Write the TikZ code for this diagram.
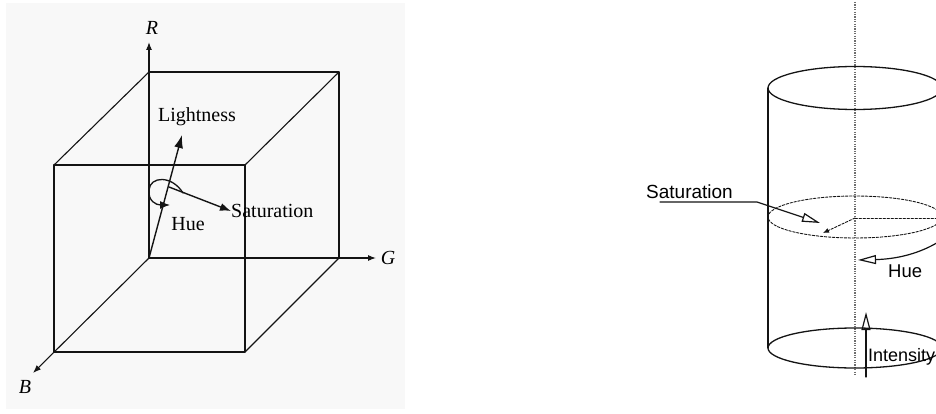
\documentclass[tikz,border=0pt]{standalone}
\usepackage{fontspec}
\setmainfont{Liberation Serif}
\setsansfont{Liberation Sans}
\usetikzlibrary{arrows.meta}

\begin{document}
\begin{tikzpicture}[x=1pt, y=-1pt, line cap=round, line join=round]

% Colors
\definecolor{panel}{RGB}{248,248,248}
\definecolor{ink}{RGB}{20,20,20}
\definecolor{axisgray}{RGB}{110,110,110}

\tikzset{
  cubeline/.style={ink, line width=1.1pt},
  axisarrow/.style={ink, line width=1.1pt, -{Latex[length=8pt,width=6pt]}},
  bigarrow/.style={ink, line width=1.4pt, -{Latex[length=13pt,width=9pt]}},
  serlabel/.style={inner sep=0pt, font=\fontsize{20}{22}\selectfont},
  axlabel/.style={inner sep=0pt, font=\fontsize{20}{22}\selectfont\itshape},
  sanslabel/.style={inner sep=0pt, anchor=west, font=\sffamily\fontsize{19}{21}\selectfont},
  rim/.style={ink, line width=1.3pt},
  dashrim/.style={ink, line width=0.9pt, dash pattern=on 2.5pt off 1.5pt},
  openarrow/.style={ink, line width=1.2pt, -{Triangle[open, length=18pt, width=9pt]}}
}

\useasboundingbox (0,0) rectangle (936,414);
\clip (0,0) rectangle (936,414);

% Left panel background
\fill[panel] (6,3) rectangle (405,409);

% RGB cube
\coordinate (O) at (149,258);
\draw[cubeline] (54,165) rectangle (245,352);
\draw[cubeline] (149,72) -- (339,72) -- (339,258);
\draw[cubeline] (54,165) -- (149,72) (245,165) -- (339,72) (245,352) -- (339,258);

% Axes
\node[axlabel] (rlbl) at (152,28) {R};
\node[axlabel] (glbl) at (388,258) {G};
\node[axlabel] (blbl) at (25,387) {B};
\coordinate (rtip) at (149,42);
\coordinate (gtip) at (376,258);
\coordinate (btip) at (33,373);
\draw[axisarrow] (O) -- (rtip);
\draw[axisarrow] (O) -- (gtip);
\draw[axisarrow] (O) -- (btip);

% Lightness, saturation, hue
\node[serlabel] (light) at (197,117) {Lightness};
\node[serlabel, anchor=west] (satl) at (231,211) {Saturation};
\node[serlabel] (huel) at (188,224) {Hue};
\coordinate (ltip) at (182,135);
\coordinate (sbase) at (169,187);
\draw[bigarrow] (O) -- (ltip);
\draw[ink, line width=1.4pt, -{Latex[length=11pt,width=8pt]}] (sbase) -- (satl.west);
\draw[ink, line width=1.3pt, -{Latex[length=10pt,width=8pt]}]
  (183,193) .. controls (172,175) and (150,176) .. (149,190)
  .. controls (148,201) and (156,205) .. (170,205);

% HSI cylinder
\draw[axisgray, line cap=butt, line width=1.4pt, dash pattern=on 1.2pt off 1.2pt] (855,2) -- (855,375);
\draw[rim] (855,88) ellipse [x radius=87pt, y radius=21.5pt];
\draw[rim] (855,348) ellipse [x radius=87pt, y radius=20pt];
\draw[rim] (768,88) -- (768,348) (942,88) -- (942,348);
\draw[dashrim] (855,217) ellipse [x radius=87pt, y radius=21pt];
\coordinate (c) at (855,218);
\draw[dashrim] (c) -- (942,218);
\draw[dashrim, -{Latex[length=6pt,width=5pt]}] (c) -- (823,233);

% Labels on the cylinder
\node[sanslabel] (satr) at (646,192) {Saturation};
\node[sanslabel, font=\sffamily\fontsize{18.5}{20}\selectfont] (huer) at (888,271) {Hue};
\node[sanslabel, font=\sffamily\fontsize{18}{20}\selectfont] (intr) at (868,357) {Intensity};
\draw[openarrow] (660,202) -- (757,202) -- (820,223);
\draw[openarrow] (946,237) .. controls (925,252) and (900,259) .. (858,260);
\draw[openarrow] (866,377) -- (866,312);

\end{tikzpicture}
\end{document}
